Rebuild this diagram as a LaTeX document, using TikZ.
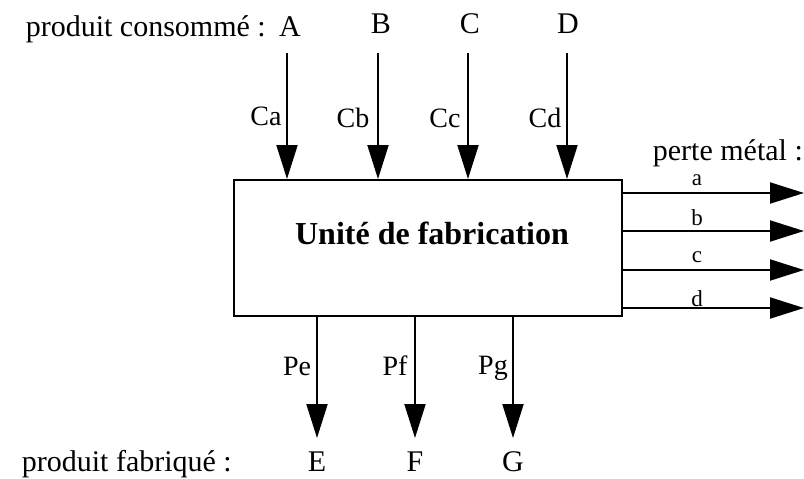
\documentclass[tikz,border=0pt]{standalone}
\usepackage{fontspec}
\setmainfont{Liberation Serif}
\usetikzlibrary{arrows.meta}

\tikzset{
  flow/.style={line width=2pt,-{Triangle[length=34pt,width=21pt]}},
  big/.style={font=\fontsize{30}{34}\selectfont,inner sep=0pt},
  mid/.style={font=\fontsize{28}{32}\selectfont,inner sep=0pt},
  tiny/.style={font=\fontsize{23}{26}\selectfont,inner sep=0pt}
}

\begin{document}
\begin{tikzpicture}[x=1pt,y=-1pt]
\useasboundingbox (0,0) rectangle (804,479);
% the unit
\node[draw,line width=2pt,minimum width=388pt,minimum height=136pt,inner sep=0pt] (unit) at (428,248) {};
\node[font=\fontsize{32}{36}\selectfont\bfseries,inner sep=0pt,anchor=base] (title) at (432,244) {Unité de fabrication};
% consumed products
\node[big,anchor=base east] (cons) at (266,36) {produit consommé :};
\node[big,anchor=base] (pa) at (290,36) {A};
\node[big,anchor=base] (pb) at (381,34) {B};
\node[big,anchor=base] (pc) at (470,34) {C};
\node[big,anchor=base] (pd) at (568,34) {D};
\coordinate (sa) at (287,53);
\coordinate (sb) at (378,53);
\coordinate (sc) at (468,53);
\coordinate (sd) at (567,53);
\draw[flow] (sa) -- (sa |- unit.north);
\draw[flow] (sb) -- (sb |- unit.north);
\draw[flow] (sc) -- (sc |- unit.north);
\draw[flow] (sd) -- (sd |- unit.north);
\node[mid] (ca) at (266,116) {Ca};
\node[mid] (cb) at (353,118) {Cb};
\node[mid] (cc) at (445,118) {Cc};
\node[mid] (cd) at (545,118) {Cd};
% metal losses
\node[big,anchor=base east] (loss) at (803,160) {perte métal :};
\coordinate (la) at (804,193);
\coordinate (lb) at (804,231);
\coordinate (lc) at (804,270);
\coordinate (ld) at (804,308);
\draw[flow] (la -| unit.east) -- (la);
\draw[flow] (lb -| unit.east) -- (lb);
\draw[flow] (lc -| unit.east) -- (lc);
\draw[flow] (ld -| unit.east) -- (ld);
\node[tiny,anchor=base] (ta) at (697,185) {a};
\node[tiny,anchor=base] (tb) at (697,225) {b};
\node[tiny,anchor=base] (tc) at (697,262) {c};
\node[tiny,anchor=base] (td) at (697,306) {d};
% manufactured products
\node[big,anchor=base east] (fab) at (232,471) {produit fabriqué :};
\node[big,anchor=base] (pe) at (317,471) {E};
\node[big,anchor=base] (pf) at (415,471) {F};
\node[big,anchor=base] (pg) at (513,471) {G};
\coordinate (ee) at (317,438);
\coordinate (ef) at (415,438);
\coordinate (eg) at (513,438);
\draw[flow] (ee |- unit.south) -- (ee);
\draw[flow] (ef |- unit.south) -- (ef);
\draw[flow] (eg |- unit.south) -- (eg);
\node[mid] (qe) at (297,366) {Pe};
\node[mid] (qf) at (395,366) {Pf};
\node[mid] (qg) at (493,368) {Pg};
\end{tikzpicture}
\end{document}
